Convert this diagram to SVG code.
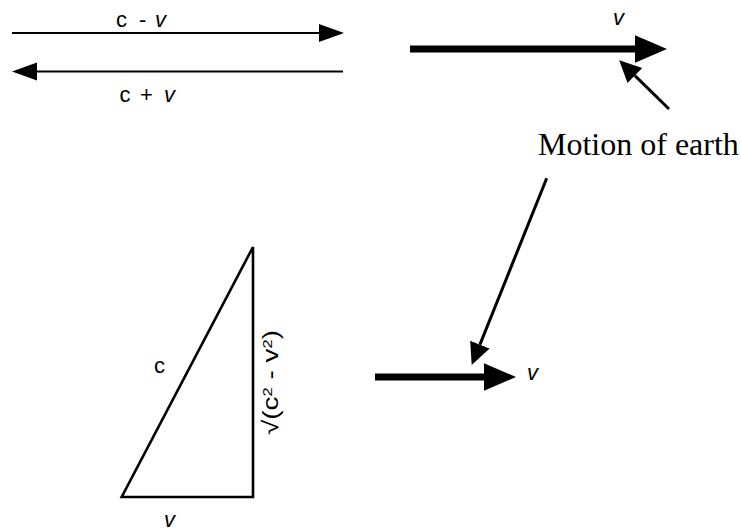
<svg xmlns="http://www.w3.org/2000/svg" width="741" height="532" viewBox="0 0 741 532">
<style>
.ln{stroke:#000;fill:none;stroke-linecap:butt}
.thin{stroke-width:2.2}
.thick{stroke-width:7}
.diag{stroke-width:3}
.sans{font-family:"Liberation Sans",Arial,sans-serif;font-size:22px;fill:#000}
.it{font-style:italic}
.serif{font-family:"Liberation Serif","Times New Roman",serif;font-size:32px;fill:#000}
</style>
<defs>
<marker id="hThin" markerUnits="userSpaceOnUse" markerWidth="26" markerHeight="20" viewBox="0 -10 26 20" refX="0" refY="0" orient="auto"><path d="M0,-9 L25,0 L0,9 z" fill="#000"/></marker>
<marker id="hThick" markerUnits="userSpaceOnUse" markerWidth="33" markerHeight="30" viewBox="0 -15 33 30" refX="0" refY="0" orient="auto"><path d="M0,-13.7 L32,0 L0,13.7 z" fill="#000"/></marker>
<marker id="hDiag" markerUnits="userSpaceOnUse" markerWidth="23" markerHeight="24" viewBox="0 -12 23 24" refX="0" refY="0" orient="auto"><path d="M0,-10.5 L22,0 L0,10.5 z" fill="#000"/></marker>
</defs>
<g id="connectors">
<line id="arrow-c-minus-v" class="ln thin" x1="12" y1="33" x2="319" y2="33" marker-end="url(#hThin)"/>
<line id="arrow-c-plus-v" class="ln thin" x1="343" y1="71.5" x2="37" y2="71.5" marker-end="url(#hThin)"/>
<line id="arrow-v-top" class="ln thick" x1="410" y1="49" x2="635" y2="49" marker-end="url(#hThick)"/>
<line id="arrow-v-bottom" class="ln thick" x1="375" y1="377" x2="484" y2="377" marker-end="url(#hThick)"/>
<line id="arrow-earth-top" class="ln diag" x1="669" y1="109" x2="634.9" y2="75.6" marker-end="url(#hDiag)"/>
<line id="arrow-earth-bottom" class="ln diag" x1="546.7" y1="178.3" x2="479.9" y2="344.6" marker-end="url(#hDiag)"/>
</g>
<g id="label-c-minus-v"><text class="sans" y="26.5"><tspan x="116">c</tspan><tspan x="139">-</tspan><tspan x="155" class="it">v</tspan></text></g>
<g id="label-c-plus-v"><text class="sans" y="101.5"><tspan x="119.5">c</tspan><tspan x="140">+</tspan><tspan x="164" class="it">v</tspan></text></g>
<g id="label-v-top"><text class="sans it" x="613" y="25">v</text></g>
<g id="label-v-bottom"><text class="sans it" x="527" y="380">v</text></g>
<g id="label-motion"><text class="serif" x="538" y="154.5">Motion of earth</text></g>
<g id="triangle">
<path class="ln" stroke-width="2.6" stroke-linejoin="miter" d="M253,247 L253,497 L121.7,497 Z"/>
<text class="sans" x="154" y="373">c</text>
<text class="sans it" x="164" y="527">v</text>
<text class="sans" font-size="17" transform="translate(277.5,435) rotate(-90)" textLength="105" lengthAdjust="spacingAndGlyphs">√(c<tspan font-size="13" dy="-6">2</tspan><tspan dy="6"> - v</tspan><tspan font-size="13" dy="-6">2</tspan><tspan dy="6">)</tspan></text>
</g>
</svg>
